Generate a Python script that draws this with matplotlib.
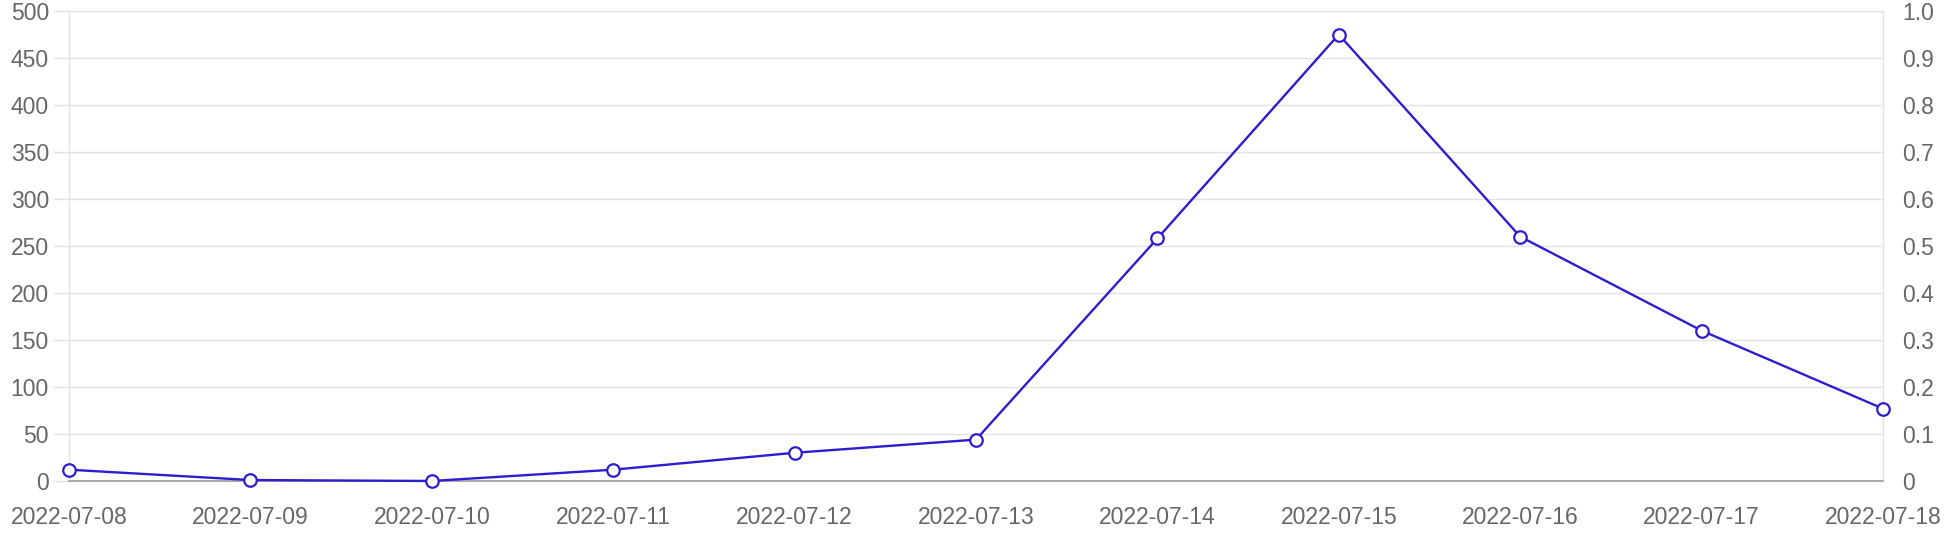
import matplotlib.pyplot as plt

plt.rcParams['font.family'] = ['Liberation Sans', 'DejaVu Sans']

dates = ['2022-07-08', '2022-07-09', '2022-07-10', '2022-07-11', '2022-07-12',
         '2022-07-13', '2022-07-14', '2022-07-15', '2022-07-16', '2022-07-17',
         '2022-07-18']
counts = [12, 1, 0, 12, 30, 44, 258, 475, 260, 160, 77]
left_ticks = [0, 50, 100, 150, 200, 250, 300, 350, 400, 450, 500]
right_ticks = [0, 0.1, 0.2, 0.3, 0.4, 0.5, 0.6, 0.7, 0.8, 0.9, 1.0]
right_labels = ['0', '0.1', '0.2', '0.3', '0.4', '0.5', '0.6', '0.7', '0.8', '0.9', '1.0']

line_color = '#2d1dcf'
grid_color = '#e2e2e2'
text_color = '#666666'

fig = plt.figure(figsize=(19.5, 5.4), dpi=100)
ax = fig.add_axes([0.0354, 0.1093, 0.9302, 0.8703])

ax.plot(range(len(dates)), counts, color=line_color, lw=1.7,
        marker='o', ms=9, mfc='white', mec=line_color, mew=1.6,
        zorder=3, clip_on=False)

ax.set_xlim(0, len(dates) - 1)
ax.set_ylim(0, 500)
ax.set_yticks(left_ticks)
ax.set_xticks(range(len(dates)))
ax.set_xticklabels(dates)

ax.grid(axis='y', color=grid_color, lw=1)
ax.set_axisbelow(True)
for side in ['left', 'right', 'top']:
    ax.spines[side].set_color(grid_color)
    ax.spines[side].set_linewidth(1)
ax.spines['bottom'].set_color('#9a9a9a')
ax.spines['bottom'].set_linewidth(1.2)

ax.tick_params(axis='y', length=11.5, width=1, color=grid_color, pad=3,
               labelsize=16.5, labelcolor=text_color)
ax.tick_params(axis='x', length=0, pad=18, labelsize=16.5, labelcolor=text_color)

ax2 = ax.twinx()
ax2.set_ylim(0, 1.0)
ax2.set_yticks(right_ticks)
ax2.set_yticklabels(right_labels)
for side in ['left', 'right', 'top', 'bottom']:
    ax2.spines[side].set_visible(False)
ax2.tick_params(axis='y', length=0, pad=14, labelsize=16.5, labelcolor=text_color)

fig.savefig('out.png', dpi=100)
